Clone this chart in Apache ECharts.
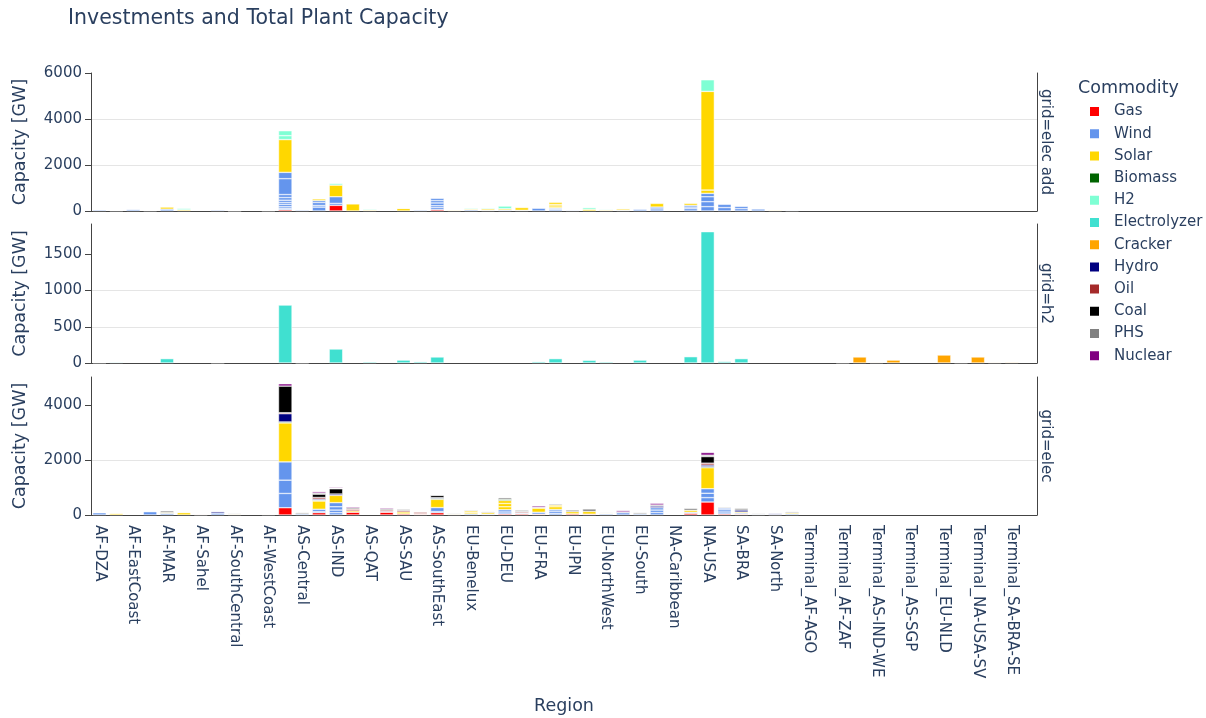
<!DOCTYPE html>
<html>
<head>
<meta charset="utf-8">
<script src="https://cdn.jsdelivr.net/npm/echarts@6/dist/echarts.min.js"></script>
<style>
    html, body { margin: 0; padding: 0; background: #fff; }
    #chart { width: 1206px; height: 718px; }
</style>
</head>
<body>
<div id="chart"></div>
<script>
// regions (every other one gets a visible label)
var regions = ['AF-DZA', 'AF-EGY', 'AF-EastCoast', 'AF-LBY', 'AF-MAR', 'AF-NGA', 'AF-Sahel', 'AF-SouthAfrica',
    'AF-SouthCentral', 'AF-TUN', 'AF-WestCoast', 'AS-CHN', 'AS-Central', 'AS-IDN', 'AS-IND', 'AS-JPN',
    'AS-QAT', 'AS-RUS', 'AS-SAU', 'AS-SGP', 'AS-SouthEast', 'AS-TWN', 'EU-Benelux', 'EU-Central',
    'EU-DEU', 'EU-East', 'EU-FRA', 'EU-GBR', 'EU-IPN', 'EU-ITA', 'EU-NorthWest', 'EU-POL',
    'EU-South', 'EU-SouthEast', 'NA-Caribbean', 'NA-MEX', 'NA-USA', 'OC-AUS', 'SA-BRA', 'SA-Central',
    'SA-North', 'SA-South', 'Terminal_AF-AGO', 'Terminal_AF-MAR', 'Terminal_AF-ZAF', 'Terminal_AS-IND-EA',
    'Terminal_AS-IND-WE', 'Terminal_AS-QAT', 'Terminal_AS-SGP', 'Terminal_EU-DEU', 'Terminal_EU-NLD',
    'Terminal_NA-USA-GC', 'Terminal_NA-USA-SV', 'Terminal_SA-BRA-NE', 'Terminal_SA-BRA-SE', 'Terminal_SA-CHL'];

var commodities = ['Gas', 'Wind', 'Solar', 'Biomass', 'H2', 'Electrolyzer', 'Cracker', 'Hydro', 'Oil', 'Coal', 'PHS', 'Nuclear'];
var colors = {
    Gas: '#ff0000', Wind: '#6495ed', Solar: '#ffd700', Biomass: '#006400', H2: '#7fffd4',
    Electrolyzer: '#40e0d0', Cracker: '#ffa500', Hydro: '#000080', Oil: '#a52a2a',
    Coal: '#000000', PHS: '#808080', Nuclear: '#800080'
};
var facets = ['grid=elec add', 'grid=h2', 'grid=elec'];

// GW, one entry per region; an array = several stacked rows of the same commodity
// grid=elec add
var addGas = [0,0,0,0,0,0,0,0,0,0,0,55,0,0,245,0,0,0,0,0,60,0,0,0,0,0,0,0,0,0,0,0,0,0,0,0,0,0,0,0,0,0,0,0,0,0,0,0,0,0,0,0,0,0,0,0];
var addWind = [45,0,60,0,80,0,0,40,0,0,0,[60,70,100,85,100,115,130,690,275],40,[170,70,130,85],[85,290],0,
    0,0,0,40,[90,80,120,100,100],0,50,30,40,30,120,[60,40,40],30,0,0,30,
    70,[90,80],0,[100,70,75],[190,215,215,145],[150,140],[100,100],85,0,25,0,0,0,0,0,0,0,0,0,0,0,0,0,0];
var addSolar = [0,20,0,20,90,50,0,0,10,0,15,1425,0,70,505,310,
    40,0,110,0,0,30,40,60,55,120,0,[80,70,90],0,70,40,60,
    0,160,0,85,[145,4290],0,0,0,30,0,0,0,0,0,0,0,0,0,0,0,0,0,0,0];
var addH2 = [0,0,0,0,0,60,0,0,0,0,0,[170,215],0,0,70,20,40,0,20,0,0,0,40,40,120,0,0,0,0,75,30,25,
    0,0,0,0,505,0,0,0,0,0,0,0,0,0,0,0,0,0,0,0,0,0,0,0];
// grid=h2
var h2Electrolyzer = [5,10,0,0,60,0,0,4,0,0,0,800,4,0,193,0,15,0,40,18,83,0,0,0,0,0,18,60,0,37,15,0,
    40,0,0,87,1813,20,60,0,0,0,0,0,0,0,0,0,0,0,0,0,0,0,0,0];
var h2Cracker = [0,0,0,0,0,0,0,0,0,0,0,0,0,0,0,0,0,0,0,0,0,0,0,0,0,0,0,0,0,0,0,0,
    0,0,0,0,0,0,0,0,0,0,0,0,5,83,8,40,0,0,110,6,83,8,10,0];
// grid=elec
var elecGas = [0,0,0,0,0,0,15,0,0,0,0,265,0,85,0,100,0,100,40,30,85,0,0,0,40,40,30,0,40,30,0,0,
    0,0,0,60,473,40,30,0,0,0,0,0,0,0,0,0,0,0,0,0,0,0,0,0];
var elecWind = [80,0,0,120,60,0,0,70,0,0,0,[520,485,665],40,[40,85],[85,95,120,150],0,
    0,30,0,0,[40,145],0,40,30,[70,80],30,70,[60,80,60],0,0,40,80,
    40,[90,90,85],0,40,[160,160,165],[70,80,60],40,25,20,40,0,0,0,0,0,0,0,0,0,0,0,0,0,0];
var elecSolar = [0,50,0,0,30,85,0,0,25,0,20,1420,0,300,265,50,
    0,0,70,20,300,25,[60,50],60,[110,120,110],0,150,[100,60],80,100,25,0,
    0,0,0,70,765,0,40,0,0,40,0,0,0,0,0,0,0,0,0,0,0,0,0,0];
var elecBiomass = [0,0,0,0,0,0,0,0,0,0,0,36,0,30,0,0,0,0,0,0,35,0,0,0,40,0,0,0,0,0,0,0,
    0,0,0,0,36,0,0,0,0,0,0,0,0,0,0,0,0,0,0,0,0,0,0,0];
var elecHydro = [0,0,0,0,0,0,0,50,0,0,0,300,0,40,50,0,0,0,0,0,30,0,0,0,0,0,0,0,0,0,0,30,
    0,60,0,0,60,0,70,0,30,0,0,0,0,0,0,0,0,0,0,0,0,0,0,0];
var elecOil = [0,0,0,0,0,0,20,0,0,0,0,36,0,60,0,60,0,50,50,50,0,0,0,0,0,40,0,0,0,0,0,0,
    0,0,0,0,70,0,0,0,0,0,0,0,0,0,0,0,0,0,0,0,0,0,0,0];
var elecCoal = [0,0,0,0,0,0,0,0,0,0,0,970,0,120,190,0,0,0,0,0,85,0,0,0,0,30,0,0,0,0,0,0,
    0,0,0,0,240,0,0,0,0,0,0,0,0,0,0,0,0,0,0,0,0,0,0,0];
var elecPHS = [0,0,0,0,60,0,0,0,25,0,15,0,45,40,20,50,0,45,45,0,0,25,30,30,60,40,30,40,60,90,20,0,
    45,40,0,70,50,30,60,25,0,40,0,0,0,0,0,0,0,0,0,0,0,0,0,0];
var elecNuclear = [0,0,0,0,0,0,0,0,0,0,0,85,0,50,30,40,0,40,0,0,10,0,0,0,0,0,50,0,0,0,0,50,
    0,60,0,0,97,0,0,0,0,0,0,0,0,0,0,0,0,0,0,0,0,0,0,0];

var panels = [
    [['Gas', addGas], ['Wind', addWind], ['Solar', addSolar], ['H2', addH2]],
    [['Electrolyzer', h2Electrolyzer], ['Cracker', h2Cracker]],
    [['Gas', elecGas], ['Wind', elecWind], ['Solar', elecSolar], ['Biomass', elecBiomass], ['Hydro', elecHydro],
        ['Oil', elecOil], ['Coal', elecCoal], ['PHS', elecPHS], ['Nuclear', elecNuclear]]
];

var font = 'Verdana, "DejaVu Sans", sans-serif';
var txt = '#2a3f5f';
var line = '#444';

var gridTops = [73, 224, 377];
var gridHeights = [138, 139, 138];
var yMax = [6000, 1919, 5029];
var yStep = [2000, 500, 2000];

function rows(v) {
    if (Array.isArray(v)) return v;
    return v ? [v] : [];
}

var grids = [], xAxes = [], yAxes = [], series = [];
for (var p = 0; p < 3; p++) {
    grids.push({ left: 91, right: 169, top: gridTops[p], height: gridHeights[p] });

    var last = p === 2;
    xAxes.push({
        type: 'category',
        gridIndex: p,
        data: regions,
        axisLine: { lineStyle: { color: line, width: 1 } },
        axisTick: { show: false },
        axisLabel: {
            show: last, interval: 1, rotate: -90, margin: 10,
            color: txt, fontSize: 15, fontFamily: font
        },
        name: last ? 'Region' : '',
        nameLocation: 'middle',
        nameGap: 182,
        nameTextStyle: { color: txt, fontSize: 17.5, fontFamily: font }
    });

    var ticks = [];
    for (var t = 0; t <= yMax[p]; t += yStep[p]) ticks.push(t);
    yAxes.push({
        type: 'value',
        gridIndex: p,
        min: 0, max: yMax[p], interval: yStep[p],
        axisLine: { show: true, lineStyle: { color: line, width: 1 } },
        axisTick: { show: true, length: 6, customValues: ticks, lineStyle: { color: line } },
        axisLabel: {
            customValues: ticks, margin: 9, color: txt, fontSize: 15, fontFamily: font,
            formatter: function(v) { return String(v); }
        },
        splitLine: { show: true, showMinLine: false, showMaxLine: false, lineStyle: { color: '#e5e5e5', width: 1 } },
        name: 'Capacity [GW]',
        nameLocation: 'middle',
        nameGap: 62,
        nameTextStyle: { color: txt, fontSize: 17.5, fontFamily: font }
    });
    // right edge line + facet label
    yAxes.push({
        type: 'value',
        gridIndex: p,
        position: 'right',
        min: 0, max: 1,
        axisLine: { show: true, onZero: false, lineStyle: { color: line, width: 1 } },
        axisTick: { show: false },
        axisLabel: { show: false },
        splitLine: { show: false },
        name: facets[p],
        nameLocation: 'middle',
        nameRotate: -90,
        nameGap: 1,
        nameTextStyle: { color: txt, fontSize: 15, fontFamily: font }
    });

    panels[p].forEach(function(pair) {
        var name = pair[0], arr = pair[1];
        var depth = 1;
        arr.forEach(function(v) { depth = Math.max(depth, rows(v).length); });
        for (var k = 0; k < depth; k++) {
            series.push({
                name: name,
                type: 'bar',
                stack: 'p' + p,
                xAxisIndex: p,
                yAxisIndex: p * 2,
                barCategoryGap: '20%',
                itemStyle: { color: colors[name], borderColor: '#ffffff', borderWidth: 0.5 },
                emphasis: { disabled: true },
                data: arr.map(function(v) {
                    var r = rows(v);
                    return r[k] ? r[k] : '-';
                })
            });
        }
    });
}

var myChart = echarts.init(document.getElementById('chart'));
var option = {
    animation: false,
    backgroundColor: '#fff',
    title: {
        text: 'Investments and Total Plant Capacity',
        left: 68, top: 8, padding: 0,
        textStyle: { color: txt, fontSize: 20.5, fontWeight: 'normal', fontFamily: font }
    },
    legend: {
        data: commodities,
        orient: 'vertical',
        left: 1088, top: 104,
        padding: 0,
        icon: 'rect',
        itemWidth: 11, itemHeight: 11,
        itemGap: 7.2,
        textStyle: { color: txt, fontSize: 15, lineHeight: 15, fontFamily: font, padding: [0, 0, 0, 9] }
    },
    graphic: [{
        type: 'text',
        left: 1078, top: 79,
        style: { text: 'Commodity', fill: txt, fontSize: 17.5, fontFamily: font }
    }],
    grid: grids,
    xAxis: xAxes,
    yAxis: yAxes,
    series: series
};
myChart.setOption(option);
window.addEventListener('resize', function() {
    myChart.resize();
});
</script>
</body>
</html>
